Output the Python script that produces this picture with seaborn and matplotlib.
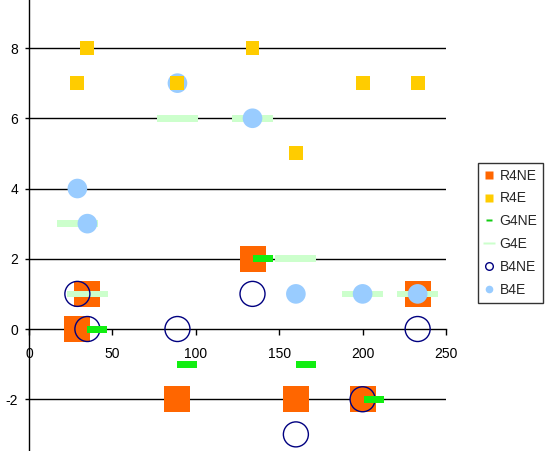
import pandas as pd
import matplotlib
matplotlib.use("Agg")
import matplotlib.pyplot as plt
from matplotlib.lines import Line2D
import seaborn as sns

# series data
r4ne_x = [29, 35, 134, 89, 160, 200, 233]
r4ne_y = [0, 1, 2, -2, -2, -2, 1]
r4e_x = [35, 29, 89, 134, 160, 200, 233]
r4e_y = [8, 7, 7, 8, 5, 7, 7]
g4ne_x = [41, 140, 95, 166, 207]
g4ne_y = [0, 2, -1, -1, -2]
g4e_x = [89, 134, 29, 35, 160, 200, 233]
g4e_y = [6, 6, 3, 1, 2, 1, 1]
b4ne_x = [29, 35, 89, 134, 160, 200, 233]
b4ne_y = [1, 0, 0, 1, -3, -2, 0]
b4e_x = [89, 134, 29, 35, 160, 200, 233]
b4e_y = [7, 6, 4, 3, 1, 1, 1]

x_ticks = [0, 50, 100, 150, 200, 250]
y_ticks = [-2, 0, 2, 4, 6, 8]

sns.set_theme(style="white")
plt.rcParams["font.family"] = ["Liberation Sans", "DejaVu Sans"]
plt.rcParams["axes.unicode_minus"] = False


def dash(h):
    # flat rectangle marker, h = half height relative to half width
    return [(-1, -h), (1, -h), (1, h), (-1, h), (-1, -h)]


fig = plt.figure(figsize=(5.45, 4.51), dpi=100)
ax = fig.add_axes([29 / 545, 0, 417 / 545, 1])

# name, x, y, marker, size, face, edge, zorder
series = [
    ("R4NE", r4ne_x, r4ne_y, "s", 350, "#FF6600", "none", 2),
    ("G4E", g4e_x, g4e_y, dash(0.16), 870, "#CCFFCC", "none", 3),
    ("B4NE", b4ne_x, b4ne_y, "o", 324, "none", "#000080", 4),
    ("G4NE", g4ne_x, g4ne_y, dash(0.35), 207, "#11EE11", "none", 5),
    ("B4E", b4e_x, b4e_y, "o", 200, "#99CCFF", "none", 6),
    ("R4E", r4e_x, r4e_y, "s", 101, "#FFCC00", "none", 7),
]

for name, xs, ys, mk, s, fc, ec, z in series:
    df = pd.DataFrame({"x": xs, "y": ys})
    sns.scatterplot(
        data=df, x="x", y="y", ax=ax, marker=mk, s=s,
        facecolor=fc, edgecolor=ec, linewidth=1.0 if ec != "none" else 0,
        zorder=z, legend=False,
    )

ax.set_xlim(0, 250)
ax.set_ylim(-3.473, 9.367)
ax.set_xticks(x_ticks)
ax.set_yticks(y_ticks)
ax.set_xlabel("")
ax.set_ylabel("")

ax.spines["top"].set_visible(False)
ax.spines["right"].set_visible(False)
ax.spines["bottom"].set_position(("data", 0))
for sp in ["left", "bottom"]:
    ax.spines[sp].set_color("black")
    ax.spines[sp].set_linewidth(1.0)
    ax.spines[sp].set_zorder(1)

for yv in y_ticks:
    if yv != 0:
        ax.axhline(yv, color="black", linewidth=1.0, zorder=1)

ax.tick_params(axis="x", direction="out", length=4, width=1, color="black",
               pad=9, labelsize=10, bottom=True)
ax.tick_params(axis="y", direction="out", length=3, width=1, color="black",
               pad=5, labelsize=10, left=True)
for lab in ax.get_xticklabels() + ax.get_yticklabels():
    lab.set_color("black")
ax.set_facecolor("white")

handles = [
    Line2D([], [], linestyle="none", marker="s", markersize=6,
           markerfacecolor="#FF6600", markeredgecolor="none"),
    Line2D([], [], linestyle="none", marker="s", markersize=6,
           markerfacecolor="#FFCC00", markeredgecolor="none"),
    Line2D([], [], linestyle="none", marker=dash(0.4), markersize=4,
           markerfacecolor="#11CC11", markeredgecolor="none"),
    Line2D([], [], linestyle="none", marker=dash(0.2), markersize=8,
           markerfacecolor="#CCFFCC", markeredgecolor="none"),
    Line2D([], [], linestyle="none", marker="o", markersize=5.5,
           markerfacecolor="none", markeredgecolor="#000080", markeredgewidth=1),
    Line2D([], [], linestyle="none", marker="o", markersize=5.5,
           markerfacecolor="#99CCFF", markeredgecolor="none"),
]
labels = ["R4NE", "R4E", "G4NE", "G4E", "B4NE", "B4E"]
leg = fig.legend(
    handles, labels, loc="upper left",
    bbox_to_anchor=(478 / 545, 1 - 163 / 451),
    fontsize=10, frameon=True, fancybox=False, borderaxespad=0,
    handlelength=0.8, handletextpad=0.35, labelspacing=0.64, borderpad=0.4,
)
leg.get_frame().set_edgecolor("black")
leg.get_frame().set_linewidth(1.0)

fig.savefig("out.png", dpi=100, facecolor="white")
